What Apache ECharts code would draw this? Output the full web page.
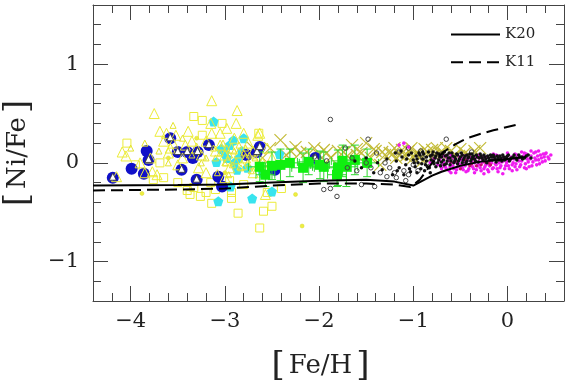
<!DOCTYPE html>
<html><head><meta charset="utf-8">
<script src="https://cdn.jsdelivr.net/npm/echarts@6/dist/echarts.min.js"></script>
<style>html,body{margin:0;padding:0;background:#fff}#c{width:570px;height:386px}</style>
</head><body><div id="c"></div>
<script>
// axis ranges and tick labels
const X_MIN = -4.4, X_MAX = 0.6, Y_MIN = -1.4, Y_MAX = 1.6;
const X_MAJOR = [-4, -3, -2, -1, 0];
const Y_MAJOR = [-1, 0, 1];

// model curves
const K20 = [[-4.4,-0.23],[-3.5,-0.225],[-3.0,-0.22],[-2.5,-0.2],[-2.0,-0.18],[-1.5,-0.17],[-1.2,-0.19],[-1.0,-0.23],[-0.9,-0.18],[-0.8,-0.13],[-0.7,-0.09],[-0.5,-0.03],[-0.3,0.01],[0.0,0.04],[0.2,0.06]];
const K11 = [[-4.4,-0.28],[-3.5,-0.27],[-3.0,-0.26],[-2.5,-0.23],[-2.0,-0.21],[-1.5,-0.21],[-1.2,-0.22],[-1.03,-0.245],[-0.93,-0.17],[-0.8,0.0],[-0.68,0.11],[-0.55,0.19],[-0.43,0.25],[-0.3,0.29],[-0.15,0.33],[0.11,0.39]];

// observational samples [Fe/H, Ni/Fe]
const YELLOW_TRI = [[-4.15,-0.14],[-4.09,0.11],[-4.05,0.07],[-3.77,-0.09],[-3.72,-0.12],[-3.75,0.5],[-3.69,0.32],[-3.79,0.05],[-3.6,0.1],[-3.55,0.2],[-3.39,0.32],[-3.35,0.22],[-3.3,0.15],[-3.25,0.08],[-3.14,0.63],[-3.14,0.3],[-3.2,0.22],[-3.1,0.12],[-3.05,0.18],[-3.0,0.08],[-2.97,0.02],[-2.93,0.15],[-2.87,0.53],[-2.9,0.25],[-2.85,0.1],[-2.8,0.3],[-2.78,0.05],[-2.75,0.2],[-2.7,0.12],[-2.65,0.28],[-2.63,0.3],[-2.6,0.0],[-2.57,-0.32],[-2.55,0.15],[-2.5,0.05],[-3.45,0.05],[-3.5,-0.02],[-3.62,0.3],[-3.28,-0.05],[-3.2,-0.1],[-3.0,-0.15],[-2.95,-0.05],[-2.82,-0.02],[-2.7,-0.1],[-3.42,0.18],[-3.58,0.15],[-3.9,0.0],[-3.85,-0.1],[-3.15,0.4],[-2.98,0.35],[-3.05,0.3],[-2.88,0.4],[-3.65,0.22],[-3.52,0.28]];
const YELLOW_TRI_SMALL = [[-3.1,0.05],[-3.05,0.1],[-3.0,0.0],[-2.98,0.15],[-2.95,0.08],[-2.92,-0.02],[-2.9,0.12],[-2.88,0.02],[-2.85,0.18],[-2.83,-0.05],[-2.8,0.1],[-2.78,0.15],[-2.76,0.0],[-2.74,0.08],[-2.72,-0.08],[-2.68,0.05],[-3.08,-0.1],[-3.02,0.2],[-2.96,-0.12],[-3.12,0.15],[-3.25,0.0],[-3.35,0.08],[-3.45,0.25],[-3.6,0.0],[-3.7,0.12],[-3.85,0.2],[-4.0,0.15],[-3.55,0.38],[-3.2,0.05],[-2.65,-0.02]];
const YELLOW_SQ = [[-4.04,0.2],[-3.69,0.0],[-3.33,0.47],[-3.24,0.43],[-3.03,0.4],[-3.24,0.28],[-3.37,-0.32],[-3.26,-0.34],[-3.14,-0.41],[-2.86,-0.51],[-2.59,-0.49],[-2.5,-0.44],[-2.63,-0.66],[-2.93,-0.36],[-2.93,-0.3],[-2.64,0.3],[-3.76,-0.17],[-3.33,-0.25],[-2.4,-0.26],[-3.95,-0.02],[-3.65,-0.15],[-3.5,-0.2],[-2.95,-0.18],[-2.8,-0.22],[-3.15,-0.2],[-3.1,-0.27],[-2.7,0.0],[-3.4,-0.28],[-3.2,-0.3],[-2.55,-0.3]];
const YELLOW_DOT = [[-3.88,-0.31],[-2.18,-0.64],[-2.25,-0.32],[-3.6,0.05],[-3.3,0.25],[-2.9,0.2],[-2.7,0.1],[-3.0,-0.1]];
const BLUE = [[-4.19,-0.15],[-3.99,-0.06],[-3.86,-0.11],[-3.83,0.12],[-3.81,0.03],[-3.58,0.25],[-3.46,-0.07],[-3.5,0.11],[-3.4,0.11],[-3.29,0.11],[-3.34,0.05],[-3.3,-0.17],[-3.17,0.18],[-3.07,-0.14],[-3.03,-0.24],[-2.77,0.08],[-2.66,0.11],[-2.63,0.16],[-2.47,-0.07],[-2.47,-0.05],[-2.04,0.05]];
const WHITE_TRI = [[-4.19,-0.14],[-3.81,0.04],[-3.58,0.26],[-3.46,-0.06],[-3.5,0.12],[-3.4,0.12],[-3.29,0.12],[-3.17,0.19],[-3.3,-0.16],[-2.66,0.12],[-2.63,0.17],[-2.04,0.06]];
const CYAN = [[-3.12,0.42],[-2.91,0.23],[-2.8,0.25],[-2.87,-0.07],[-3.07,-0.39],[-2.71,-0.36],[-2.5,-0.29],[-2.42,0.09],[-2.94,-0.24],[-3.09,0.01],[-3.0,0.1],[-2.85,0.05],[-2.6,-0.1],[-2.95,0.18],[-2.98,0.05],[-2.9,0.0],[-2.82,0.12],[-2.76,-0.05],[-3.04,0.14]];
// [Fe/H, Ni/Fe, err Fe/H, err Ni/Fe]
const GREEN = [[-2.63,-0.04,0.12,0.15],[-2.57,-0.12,0.1,0.12],[-2.41,-0.02,0.12,0.16],[-2.31,0.0,0.1,0.14],[-2.17,-0.05,0.12,0.15],[-1.99,-0.02,0.1,0.14],[-2.11,0.01,0.12,0.13],[-1.95,-0.04,0.12,0.15],[-1.8,-0.05,0.14,0.18],[-1.71,-0.04,0.12,0.2],[-1.62,0.03,0.1,0.15],[-1.81,-0.12,0.1,0.12],[-1.49,0.0,0.12,0.14],[-2.5,-0.03,0.1,0.14],[-1.75,0.02,0.12,0.16]];
const CROSS = [[-2.41,0.23],[-2.3,0.12],[-2.2,0.1],[-2.13,0.11],[-2.05,0.15],[-1.95,0.13],[-1.88,0.05],[-1.8,0.12],[-1.74,0.11],[-1.65,0.18],[-1.6,0.08],[-1.55,0.1],[-1.45,0.05],[-1.4,0.12],[-1.3,0.08],[-1.25,0.1],[-1.2,0.15],[-1.14,0.08],[-1.05,0.12],[-1.0,0.05],[-0.95,0.1],[-0.88,0.14],[-0.8,0.13],[-0.72,0.1],[-0.65,0.15],[-0.55,0.08],[-0.45,0.1],[-0.29,0.15],[-2.6,0.05],[-2.7,0.15],[-2.52,0.15],[-1.5,0.2],[-1.35,-0.02],[-0.9,0.02],[-1.18,0.05],[-1.12,0.13],[-1.08,0.07],[-1.02,0.15],[-0.98,0.09],[-0.92,0.06],[-0.85,0.11],[-0.78,0.08],[-0.75,0.15],[-0.68,0.1],[-0.6,0.12],[-0.5,0.14],[-0.4,0.07],[-0.35,0.12],[-1.6,0.14],[-1.7,0.07],[-1.92,0.1],[-2.0,0.08],[-2.25,0.16],[-2.35,0.08],[-1.42,0.14],[-1.33,0.11],[-1.22,0.09]];
const GREY_CIRC = [[-1.88,0.44],[-1.48,0.24],[-0.65,0.24],[-1.81,-0.34],[-1.88,-0.26],[-1.55,-0.22],[-1.41,-0.24],[-1.72,0.15],[-0.38,0.11],[-1.95,-0.27],[-1.39,0.1],[-1.15,0.11],[-1.3,0.0],[-1.25,-0.05],[-1.2,-0.1],[-1.1,-0.08],[-1.05,-0.12],[-1.0,-0.02],[-0.95,-0.08],[-0.9,0.05],[-0.85,0.0],[-0.8,0.07],[-0.75,0.02],[-0.7,0.09],[-0.6,0.05],[-0.5,0.08],[-1.45,-0.05],[-1.35,-0.1],[-1.5,0.0],[-1.6,-0.08],[-1.65,0.05],[-2.05,0.06],[-1.92,0.02],[-1.05,0.15],[-0.92,0.12],[-1.18,-0.15],[-1.08,-0.18],[-1.28,-0.14],[-0.7,-0.03],[-1.7,-0.05]];
const BLACK_DOT = [[-1.62,0.02],[-1.55,-0.05],[-1.5,0.05],[-1.42,-0.1],[-1.38,0.0],[-1.33,-0.07],[-1.28,0.04],[-1.22,-0.12],[-1.18,0.02],[-1.15,-0.05],[-1.12,0.06],[-1.08,-0.02],[-1.05,0.08],[-1.03,-0.09],[-1.0,0.03],[-0.98,-0.04],[-0.97,0.07],[-0.95,0.0],[-0.94,0.1],[-0.92,-0.06],[-0.9,0.04],[-0.89,0.09],[-0.87,-0.02],[-0.86,0.06],[-0.84,0.11],[-0.83,-0.05],[-0.81,0.03],[-0.8,0.08],[-0.78,-0.01],[-0.77,0.05],[-0.75,0.1],[-0.74,0.0],[-0.72,0.06],[-0.71,-0.03],[-0.69,0.09],[-0.68,0.03],[-0.66,0.07],[-0.65,-0.01],[-0.63,0.05],[-0.62,0.1],[-0.6,0.02],[-0.58,0.07],[-0.57,0.0],[-0.55,0.04],[-0.54,0.09],[-0.52,0.02],[-0.5,0.06],[-0.49,0.1],[-0.47,0.03],[-0.45,0.07],[-0.44,0.0],[-0.42,0.05],[-0.4,0.09],[-0.39,0.02],[-0.37,0.06],[-0.35,0.04],[-0.33,0.08],[-0.31,0.01],[-0.3,0.05],[-0.28,0.07],[-0.26,0.03],[-0.24,0.06],[-0.22,0.0],[-0.2,0.05],[-0.18,0.08],[-0.16,0.03],[-0.14,0.06],[-0.12,0.01],[-0.1,0.05],[-0.08,0.07],[-0.06,0.02],[-0.04,0.06],[-0.02,0.04],[0.0,0.07],[0.02,0.02],[0.04,0.05],[0.07,0.08],[0.1,0.03],[0.13,0.06],[0.16,0.04],[0.2,0.07],[0.25,0.05],
 [-1.19,0.1],[-1.17,-0.08],[-1.13,0.12],[-1.1,-0.12],[-1.07,0.04],[-1.04,-0.06],[-1.02,0.1],[-0.99,0.0],[-0.96,-0.1],[-0.96,0.04],[-0.93,0.08],[-0.91,-0.01],[-0.9,0.11],[-0.88,-0.08],[-0.86,0.02],[-0.85,-0.04],[-0.82,0.07],[-0.82,-0.1],[-0.79,0.02],[-0.79,0.11],[-0.76,-0.04],[-0.76,0.07],[-0.73,0.03],[-0.73,0.09],[-0.7,0.01],[-0.7,0.06],[-0.67,0.11],[-0.67,-0.02],[-0.64,0.02],[-0.64,0.08],[-0.61,0.05],[-0.61,-0.02],[-0.59,0.1],[-0.56,0.06],[-0.56,0.02],[-0.53,0.08],[-0.53,-0.01],[-0.51,0.04],[-0.48,0.08],[-0.48,0.0],[-0.46,0.05],[-0.43,0.08],[-0.43,0.02],[-0.41,0.06],[-0.38,0.09],[-0.38,0.04],[-0.36,0.07],[-0.34,0.02],[-0.32,0.06],[-0.29,0.09],[-0.27,0.05],[-0.25,0.08],[-0.23,0.04],[-0.21,0.07],[-0.19,0.03],[-0.17,0.06],[-0.15,0.08],[-0.13,0.04],[-0.11,0.07],[-0.09,0.03],[-0.07,0.05],[-0.05,0.08],[-0.03,0.03],[-0.01,0.06],[0.01,0.08],[0.03,0.04],[0.06,0.06],[0.09,0.05],[0.12,0.08],[0.15,0.06],[0.18,0.05],[0.22,0.08]];
const MAGENTA = [[-0.74,-0.02],[-0.72,0.03],[-0.7,-0.06],[-0.68,0.01],[-0.66,-0.04],[-0.64,0.05],[-0.62,-0.08],[-0.6,0.0],[-0.58,-0.03],[-0.56,0.04],[-0.54,-0.07],[-0.52,-0.01],[-0.5,0.03],[-0.48,-0.05],[-0.46,0.01],[-0.44,-0.09],[-0.42,0.04],[-0.4,-0.02],[-0.38,0.02],[-0.36,-0.06],[-0.34,0.05],[-0.32,-0.03],[-0.3,0.01],[-0.28,-0.08],[-0.26,0.03],[-0.24,-0.04],[-0.22,0.06],[-0.2,-0.01],[-0.18,0.02],[-0.16,-0.06],[-0.14,0.04],[-0.12,-0.02],[-0.1,0.07],[-0.08,-0.05],[-0.06,0.01],[-0.04,0.05],[-0.02,-0.03],[0.0,0.02],[0.02,-0.06],[0.04,0.06],[0.06,0.0],[0.08,-0.04],[0.1,0.08],[0.12,0.02],[0.14,-0.02],[0.16,0.05],[0.18,-0.05],[0.2,0.09],[0.22,0.01],[0.24,0.04],[0.26,-0.03],[0.28,0.1],[0.3,0.03],[0.32,0.07],[0.34,-0.01],[0.36,0.05],[0.38,0.09],[0.4,0.02],[0.43,0.06],[-0.6,0.08],[-0.45,0.07],[-0.3,0.08],[-0.15,0.09],[0.0,0.1],[0.15,0.11],[-0.55,-0.1],[-0.35,-0.1],[-0.1,-0.09],[0.05,-0.08],[0.25,0.12],[-1.15,0.18],[-1.1,0.2],[-1.05,0.16],[-0.82,0.0],[-0.78,0.04],[-0.25,-0.11],[-0.05,-0.11],[0.33,0.12],
 [-0.71,0.06],[-0.69,-0.02],[-0.67,0.07],[-0.65,-0.06],[-0.63,0.02],[-0.61,-0.04],[-0.59,0.06],[-0.57,-0.06],[-0.55,0.01],[-0.53,-0.04],[-0.51,0.06],[-0.49,-0.02],[-0.47,-0.07],[-0.45,-0.03],[-0.43,0.02],[-0.41,-0.06],[-0.39,-0.01],[-0.37,-0.04],[-0.35,0.0],[-0.33,-0.07],[-0.31,-0.02],[-0.29,-0.05],[-0.27,0.0],[-0.25,-0.06],[-0.23,-0.02],[-0.21,-0.07],[-0.19,-0.03],[-0.17,0.0],[-0.15,-0.05],[-0.13,-0.01],[-0.11,-0.06],[-0.09,0.0],[-0.07,-0.03],[-0.05,0.02],[-0.03,-0.06],[-0.01,0.0],[0.01,-0.03],[0.03,0.03],[0.05,-0.02],[0.07,0.04],[0.09,-0.01],[0.11,0.05],[0.13,-0.04],[0.15,0.02],[0.17,0.07],[0.19,-0.01],[0.21,0.04],[0.23,-0.04],[0.25,0.07],[0.27,0.01],[0.29,0.05],[0.31,-0.02],[0.33,0.03],[0.35,0.08],[0.37,0.01],[0.39,0.06],[0.41,0.1],[0.44,0.04],[0.46,0.08],[-0.62,0.03],[-0.48,0.04],[-0.4,0.06],[-0.26,0.06],[-0.12,0.08],[0.08,0.09],[0.18,0.1],[0.3,0.11],[0.4,0.09],[-0.2,-0.09],[0.1,-0.07],[0.2,-0.06],[-0.42,-0.08],[-0.6,-0.1]];
const RED = [[-0.55,0.02],[-0.4,-0.03],[-0.3,0.05],[-0.2,0.0],[-0.5,-0.06],[-0.1,0.03],[-0.38,-0.01],[-0.33,-0.03],[-0.28,-0.02],[-0.24,0.01],[-0.18,-0.02],[-0.6,0.01],[-0.45,0.03]];

const SERIF = 'DejaVu Serif';
const fmt = v => (v < 0 ? '\u2212' + Math.abs(v) : String(v));
const AX = '#444';
const TITLE_RICH = {b:{fontFamily:SERIF, fontSize:34, color:'#222', padding:[0,4]}, t:{fontFamily:SERIF, fontSize:26, color:'#222'}};

function xAx(pos, major, labels) {
  const a = {type:'value', position:pos, min:X_MIN, max:X_MAX, gridIndex:0,
    axisLine:{show:!major, onZero:false, lineStyle:{color:AX, width:1}},
    splitLine:{show:false},
    axisLabel:{show:false}};
  if (major) { a.axisTick = {show:true, inside:true, length:15, customValues:X_MAJOR, lineStyle:{color:AX}}; }
  else { a.interval = 0.2; a.axisTick = {show:true, inside:true, length:8, lineStyle:{color:AX}}; }
  if (labels) {
    a.axisLabel = {show:true, customValues:X_MAJOR, formatter:fmt, fontFamily:SERIF, fontSize:21, color:'#222', margin:10};
    a.name = '{b|[}{t|Fe/H}{b|]}';
    a.nameLocation = 'middle'; a.nameGap = 48;
    a.nameTextStyle = {rich:TITLE_RICH, padding:[0,16,0,0]};
  }
  return a;
}
function yAx(pos, major, labels) {
  const a = {type:'value', position:pos, min:Y_MIN, max:Y_MAX, gridIndex:0,
    axisLine:{show:!major, onZero:false, lineStyle:{color:AX, width:1}},
    splitLine:{show:false},
    axisLabel:{show:false}};
  if (major) { a.axisTick = {show:true, inside:true, length:15, customValues:Y_MAJOR, lineStyle:{color:AX}}; }
  else { a.interval = 0.2; a.axisTick = {show:true, inside:true, length:8, lineStyle:{color:AX}}; }
  if (labels) {
    a.axisLabel = {show:true, customValues:Y_MAJOR, formatter:fmt, fontFamily:SERIF, fontSize:21, color:'#222', margin:14};
    a.name = '{b|[}{t|Ni/Fe}{b|]}';
    a.nameLocation = 'middle'; a.nameGap = 58; a.nameRotate = 90;
    a.nameTextStyle = {rich:TITLE_RICH};
  }
  return a;
}

const openStyle = c => ({color:'rgba(0,0,0,0)', borderColor:c, borderWidth:1, opacity:1});
const PENT = 'path://M5,0L10,3.8L8.1,10L1.9,10L0,3.8Z';
const XMARK = 'path://M0,0L10,10M10,0L0,10';

const chart = echarts.init(document.getElementById('c'), null, {renderer:'canvas'});
chart.setOption({
  animation:false,
  backgroundColor:'#fff',
  grid:{left:93, top:5, width:471, height:296, containLabel:false, outerBoundsMode:'none'},
  legend:{data:['K20','K11'], orient:'vertical', left:450, top:27, padding:0, itemWidth:49, itemHeight:14, itemGap:12.7,
    itemStyle:{color:'rgba(0,0,0,0)', borderWidth:0, opacity:0},
    textStyle:{fontFamily:SERIF, fontSize:15, color:'#222'}},
  xAxis:[xAx('bottom', false, true), xAx('bottom', true, false), xAx('top', false, false), xAx('top', true, false)],
  yAxis:[yAx('left', false, true), yAx('left', true, false), yAx('right', false, false), yAx('right', true, false)],
  series:[
    {type:'scatter', name:'cross', data:CROSS, symbol:XMARK, symbolSize:12, itemStyle:{color:'rgba(0,0,0,0)', borderColor:'#c4bc3a', borderWidth:1.2, opacity:1}, z:2},
    {type:'scatter', name:'ysq', data:YELLOW_SQ, symbol:'rect', symbolSize:8, itemStyle:openStyle('#ecec3a'), z:3},
    {type:'scatter', name:'ydot', data:YELLOW_DOT, symbol:'circle', symbolSize:4, itemStyle:{color:'#eeee40', borderColor:'#d8d830', borderWidth:0.5, opacity:1}, z:3},
    {type:'scatter', name:'cyan', data:CYAN, symbol:PENT, symbolSize:10, itemStyle:{color:'#38e4ee', opacity:1}, z:3},
    {type:'scatter', name:'blue', data:BLUE, symbol:'circle', symbolSize:12, itemStyle:{color:'#1010c8', opacity:1}, z:4},
    {type:'scatter', name:'ytri', data:YELLOW_TRI, symbol:'triangle', symbolSize:10, itemStyle:openStyle('#ecec38'), z:5},
    {type:'scatter', name:'ytri2', data:YELLOW_TRI_SMALL, symbol:'triangle', symbolSize:6, itemStyle:openStyle('#e4e430'), z:5},
    {type:'scatter', name:'wtri', data:WHITE_TRI, symbol:'triangle', symbolSize:7, itemStyle:{color:'#ffffff', borderColor:'#333', borderWidth:0.8, opacity:1}, z:6},
    {type:'custom', name:'gerr', data:GREEN, z:6,
      renderItem:(params, api) => {
        const x = api.value(0), y = api.value(1), ex = api.value(2), ey = api.value(3);
        const l = api.coord([x-ex, y]), r = api.coord([x+ex, y]);
        const t = api.coord([x, y+ey]), b = api.coord([x, y-ey]);
        const st = {stroke:'#2ed82e', lineWidth:1};
        const cap = 4;
        return {type:'group', children:[
          {type:'line', shape:{x1:l[0], y1:l[1], x2:r[0], y2:r[1]}, style:st},
          {type:'line', shape:{x1:t[0], y1:t[1], x2:b[0], y2:b[1]}, style:st},
          {type:'line', shape:{x1:t[0]-cap, y1:t[1], x2:t[0]+cap, y2:t[1]}, style:st},
          {type:'line', shape:{x1:b[0]-cap, y1:b[1], x2:b[0]+cap, y2:b[1]}, style:st},
          {type:'line', shape:{x1:l[0], y1:l[1]-cap, x2:l[0], y2:l[1]+cap}, style:st},
          {type:'line', shape:{x1:r[0], y1:r[1]-cap, x2:r[0], y2:r[1]+cap}, style:st}
        ]};
      }},
    {type:'scatter', name:'green', data:GREEN, encode:{x:0, y:1}, symbol:'rect', symbolSize:10, itemStyle:{color:'#10f010', opacity:1}, z:7},
    {type:'scatter', name:'grey', data:GREY_CIRC, symbol:'circle', symbolSize:4.5, itemStyle:{color:'rgba(0,0,0,0)', borderColor:'#444', borderWidth:1, opacity:1}, z:7},
    {type:'scatter', name:'mag', data:MAGENTA, symbol:'circle', symbolSize:3.6, itemStyle:{color:'#f01cf0', opacity:1}, z:8},
    {type:'scatter', name:'red', data:RED, symbol:'circle', symbolSize:3.4, itemStyle:{color:'#c8106c', opacity:1}, z:8},
    {type:'scatter', name:'black', data:BLACK_DOT, symbol:'circle', symbolSize:3.5, itemStyle:{color:'#111', opacity:1}, z:9},
    {type:'line', name:'K20', data:K20, symbol:'none', lineStyle:{color:'#000', width:2, type:'solid'}, itemStyle:{color:'#000'}, z:10},
    {type:'line', name:'K11', data:K11, symbol:'none', lineStyle:{color:'#000', width:2, type:[12,6]}, itemStyle:{color:'#000'}, z:10}
  ]
});
</script></body></html>
